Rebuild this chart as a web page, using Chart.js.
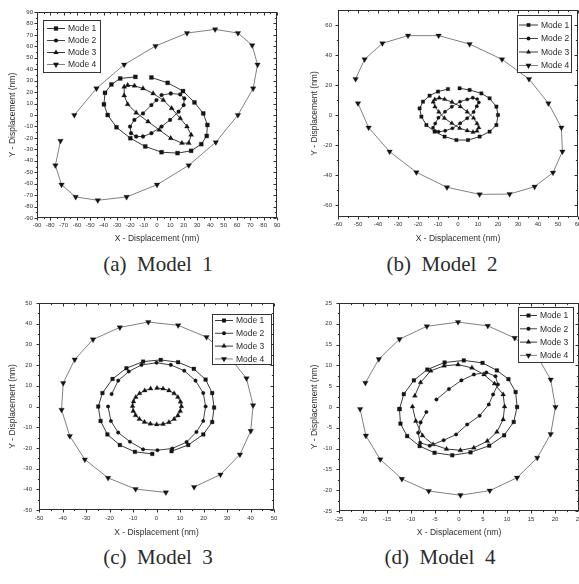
<!DOCTYPE html>
<html><head><meta charset="utf-8">
<script src="https://cdn.jsdelivr.net/npm/chart.js@4.4.1/dist/chart.umd.min.js"></script>
<style>
html,body{margin:0;padding:0;background:#fff;width:579px;height:584px;overflow:hidden;position:relative;}
.pane{position:absolute;}
.pane canvas{display:block;}
.cap{position:absolute;font-family:"Liberation Serif","DejaVu Serif",serif;font-size:21px;color:#2b2b2b;white-space:pre;transform:translate(-50%,-50%);}
</style></head><body>
<div class="pane" style="left:0px;top:0px"><canvas id="cA" width="290" height="244" style="width:290px;height:244px"></canvas></div>
<div class="pane" style="left:290px;top:0px"><canvas id="cB" width="310" height="244" style="width:310px;height:244px"></canvas></div>
<div class="pane" style="left:0px;top:290px"><canvas id="cC" width="290" height="248" style="width:290px;height:248px"></canvas></div>
<div class="pane" style="left:290px;top:290px"><canvas id="cD" width="310" height="248" style="width:310px;height:248px"></canvas></div>
<div class="cap" style="left:158px;top:264px">(a)  Model  1</div>
<div class="cap" style="left:442px;top:264px">(b)  Model  2</div>
<div class="cap" style="left:158px;top:557px">(c)  Model  3</div>
<div class="cap" style="left:440px;top:557px">(d)  Model  4</div>
<script>
// ---------- data ----------
const modeLabels = ['Mode 1', 'Mode 2', 'Mode 3', 'Mode 4'];

// (a) Model 1
const model1_mode1 = [[-4.2,32.8],[8,28.1],[19.5,20.9],[28.1,11],[34.7,1.4],[37.8,-8.7],[37.3,-18.3],[33.2,-25.5],[25.6,-31.3],[15.4,-33.3],[3.4,-32.5],[-8.8,-27.5],[-20,-20.3],[-30.4,-10.7],[-37,0],[-39.8,9.3],[-39,19.4],[-34.2,26.7],[-27.6,31.9],[-16.2,33.3]];
const model1_mode2 = [[3.4,17.4],[10.3,18.8],[17.4,18],[20.5,14.5],[20,8.7],[16.2,2.9],[9.8,-4.3],[3.4,-10.1],[-4.2,-15.9],[-10.5,-18.8],[-15.6,-18.8],[-19.5,-15.9],[-20.2,-10.1],[-17,-4.3],[-10.5,1.4],[-4.2,8.7],[-0.4,13]];
const model1_mode3 = [[-22,26],[-16.9,25.5],[-10.5,23.2],[-2.9,18.8],[4.7,13],[11,5.8],[17.4,-2.9],[22.5,-10.1],[25.6,-17.4],[23.8,-24.6],[18.7,-24.6],[10.3,-20.3],[1.7,-13],[-6.7,-5.8],[-15.6,2],[-22,9.3],[-24.6,17],[-24.6,24.6]];
const model1_mode4 = [[-62,0],[-45.4,23.2],[-24.6,44],[-1.1,60.3],[22.5,71.6],[43.6,74.8],[60.7,71.6],[71.4,60.9],[75.4,44],[72.1,23.2],[60.7,0],[44.1,-23.8],[23.8,-44],[0,-60.9],[-22.8,-71.6],[-44.4,-74.5],[-61,-71.6],[-71.6,-60.9],[-76.2,-44],[-72.4,-22.6]];
const model1_xTicks = [-90,-80,-70,-60,-50,-40,-30,-20,-10,0,10,20,30,40,50,60,70,80,90];
const model1_yTicks = [-90,-80,-70,-60,-50,-40,-30,-20,-10,0,10,20,30,40,50,60,70,80,90];

// (b) Model 2
const model2_mode1 = [[0.8,17.8],[5.8,16.7],[11.7,14.4],[15.8,11.1],[19.2,5.6],[20,0],[19.2,-6.7],[15.8,-11.1],[10.8,-14.4],[5,-16.7],[-0.8,-16.7],[-6.7,-14.4],[-11.7,-11.1],[-15.8,-6.7],[-18.3,-1.1],[-19.2,4.4],[-17.5,8.9],[-14.2,12.9],[-10,15.6],[-5,17.3]];
const model2_mode2 = [[9.6,10.6],[7.4,11.5],[4.6,10.4],[1.0,8.9],[-3.1,5.5],[-6.5,2.2],[-9.8,-1.8],[-11.4,-5.7],[-12.5,-8.5],[-11.4,-10.8],[-9.7,-11.2],[-6.4,-10.5],[-2.8,-8.9],[1.1,-5.5],[4.6,-2.2],[7.8,2.0],[9.4,5.8],[10.4,8.4]];
const model2_mode3 = [[-11.6,10.4],[-9.4,11.4],[-6.7,10.5],[-3.0,8.6],[1.2,5.6],[4.6,2.1],[7.8,-2.0],[9.5,-5.7],[10.4,-8.4],[9.5,-10.7],[7.5,-11.4],[4.6,-10.4],[0.8,-8.8],[-3.1,-5.5],[-6.8,-2.1],[-9.6,2.0],[-11.5,5.5],[-12.4,8.7]];
const model2_mode4 = [[-50,7.8],[-44.7,-8.4],[-34.2,-24.4],[-20.8,-38.2],[-5.5,-48.2],[10.8,-52.9],[25.8,-52.7],[38.3,-47.8],[47.5,-38.4],[52.2,-24.4],[51.7,-8.4],[45.2,7.8],[35.5,24],[22,37.1],[5.8,47.3],[-9.7,52.9],[-25,52.9],[-37.8,47.8],[-46.7,37.1],[-51.2,24]];
const model2_xTicks = [-60,-50,-40,-30,-20,-10,0,10,20,30,40,50,60];
const model2_yTicks = [-60,-40,-20,0,20,40,60];

// (c) Model 3
const model3_mode1 = [[6.4,-21.6],[13.5,-18.6],[19.9,-13.5],[23.7,-7.5],[24.5,-0.5],[23.7,6.5],[20.9,13],[15.9,18.2],[9.2,21.4],[1.8,22.5],[-5.7,21.7],[-12.8,18.5],[-18.7,13.3],[-23,6.5],[-24.8,0],[-23.8,-7],[-20.9,-13.5],[-15.6,-18.6],[-9.2,-21.9],[-1.8,-22.9]];
const model3_mode2 = [[-20.6,0],[-19.4,-7],[-16.3,-12.6],[-11.3,-17],[-5.7,-20.7],[0.4,-21.1],[6.7,-20.3],[12.8,-17.2],[17,-12.3],[19.9,-7],[20.9,0],[19.9,6.5],[16.6,12.5],[11.8,17.3],[6.1,20.1],[0,21.1],[-6.4,20.1],[-11.8,16.9],[-16.3,12.5],[-19.1,6]];
const model3_mode3 = [[0.2,8.9],[2.8,8.6],[5.3,7.7],[7.5,6.3],[9.1,4.5],[10.2,2.3],[10.6,0.1],[10.1,-2.2],[9.1,-4.4],[7.5,-6.1],[5.3,-7.6],[2.8,-8.5],[0.1,-8.7],[-2.6,-8.4],[-5.1,-7.5],[-7.3,-6.1],[-8.9,-4.3],[-9.9,-2.2],[-10.2,0.2],[-9.8,2.4],[-8.8,4.5],[-7.2,6.3],[-5.0,7.7],[-2.5,8.6]];
const model3_mode4 = [[4,-41.5],[-8.9,-39.9],[-20.6,-34.5],[-30.5,-25.6],[-36.9,-14.3],[-40.4,-1.6],[-39.7,11.3],[-34.8,22.7],[-27,32.4],[-15.6,38.2],[-3.5,40.8],[9.2,39.2],[21.3,33.5],[30.5,24.6],[38.3,13.6],[41.1,0.6],[40.1,-11.8],[35.5,-23.2],[27.2,-32.9],[16,-38.9]];
const model3_xTicks = [-50,-40,-30,-20,-10,0,10,20,30,40,50];
const model3_yTicks = [-50,-40,-30,-20,-10,0,10,20,30,40,50];

// (d) Model 4
const model4_mode1 = [[-12.4,-0.5],[-12.2,-4],[-10.8,-7],[-8.2,-9.4],[-5.1,-11],[-1.4,-11.6],[2.4,-10.9],[6.3,-9.3],[9.4,-6.8],[11.4,-3.6],[12.1,0],[11.8,3.6],[10.3,6.7],[7.9,8.8],[4.9,10.6],[1,11.2],[-3,10.7],[-6.6,9],[-9.4,6.4],[-11.5,3.1],[-12.4,-0.5]];
const model4_mode2 = [[-4.7,1.8],[-2.1,4.3],[0.5,6.4],[3.1,7.8],[5.7,8.3],[7.6,7.4],[8.1,5.4],[7.1,3],[6.2,0.6],[4.3,-2.1],[1.7,-4.2],[-0.6,-6.6],[-3.2,-8],[-6.1,-9.3],[-8.1,-8.6],[-8.5,-6.2],[-8,-3.7],[-6.8,-1.2]];
const model4_mode3 = [[-9.7,0.1],[-9.0,-3.4],[-7.6,-6.9],[-5.4,-9.0],[-2.6,-10.1],[0.3,-10.4],[3.1,-9.8],[5.9,-8.2],[7.9,-6.0],[9.2,-3.0],[9.5,0.1],[9.2,3.0],[7.4,5.6],[5.2,7.8],[2.7,9.4],[-0.2,10.2],[-3.1,9.9],[-5.9,8.7],[-8.0,5.9],[-9.2,2.7]];
const model4_mode4 = [[-20.6,-0.5],[-19.4,-6.9],[-16.4,-12.6],[-11.9,-17.3],[-6.3,-20.2],[0.3,-21.2],[6.4,-20.1],[12.1,-17],[16.3,-12.2],[19.1,-6.5],[20.1,0],[19.1,6.6],[16.3,12.2],[11.6,16.6],[6,19.5],[-0.2,20.4],[-6.7,19.4],[-12.4,16.3],[-16.7,11.5],[-19.5,5.8]];
const model4_xTicks = [-25,-20,-15,-10,-5,0,5,10,15,20,25];
const model4_yTicks = [-25,-20,-15,-10,-5,0,5,10,15,20,25];

// ---------- drawing ----------
const FONT = "'Liberation Sans', Arial, sans-serif";
const STYLES = [
  {pointStyle:'rect', rot:0, line:'#3a3a3a'},
  {pointStyle:'circle', rot:0, line:'#444444'},
  {pointStyle:'triangle', rot:0, line:'#3a3a3a'},
  {pointStyle:'triangle', rot:180, line:'#808080'}
];

function drawMarker(ctx, style, rot, x, y, r){
  ctx.beginPath();
  if(style==='rect'){ const s=Math.SQRT1_2*r; ctx.rect(x-s,y-s,2*s,2*s); }
  else if(style==='circle'){ ctx.arc(x,y,r,0,Math.PI*2); }
  else { let a = rot*Math.PI/180; for(let i=0;i<3;i++){ const px=x+Math.sin(a)*r, py=y-Math.cos(a)*r; if(i===0) ctx.moveTo(px,py); else ctx.lineTo(px,py); a+=2*Math.PI/3; } ctx.closePath(); }
  ctx.fill();
}

const framePlugin = {
  id:'frameTicks',
  afterDatasetsDraw(chart, args, o){
    const {ctx, chartArea:a, scales:{x,y}} = chart;
    ctx.save();
    ctx.strokeStyle='#2e2e2e'; ctx.lineWidth=1;
    const L=Math.round(a.left)+0.5, R=Math.round(a.right)-0.5, T=Math.round(a.top)+0.5, B=Math.round(a.bottom)-0.5;
    ctx.strokeRect(L,T,R-L,B-T);
    const xt=x.ticks.map(t=>t.value), yt=y.ticks.map(t=>t.value);
    const xm=[], ym=[];
    for(let i=0;i<xt.length-1;i++) xm.push((xt[i]+xt[i+1])/2);
    for(let i=0;i<yt.length-1;i++) ym.push((yt[i]+yt[i+1])/2);
    ctx.beginPath();
    const seg=(x1,y1,x2,y2)=>{ctx.moveTo(x1,y1);ctx.lineTo(x2,y2);};
    xt.forEach(v=>{const p=Math.round(x.getPixelForValue(v))+0.5; seg(p,B,p,B+3); seg(p,T,p,T+3);});
    xm.forEach(v=>{const p=Math.round(x.getPixelForValue(v))+0.5; seg(p,B,p,B+1.6); seg(p,T,p,T+1.6);});
    yt.forEach(v=>{const p=Math.round(y.getPixelForValue(v))+0.5; seg(L,p,L-3,p); seg(R,p,R-3,p);});
    ym.forEach(v=>{const p=Math.round(y.getPixelForValue(v))+0.5; seg(L,p,L-1.6,p); seg(R,p,R-1.6,p);});
    ctx.stroke();
    ctx.restore();
  }
};

const legendPlugin = {
  id:'boxLegend',
  afterDraw(chart, args, o){
    const ctx=chart.ctx;
    ctx.save();
    ctx.fillStyle='#fff'; ctx.fillRect(o.x,o.y,o.w,o.h);
    ctx.strokeStyle='#333'; ctx.lineWidth=1; ctx.strokeRect(o.x+0.5,o.y+0.5,o.w,o.h);
    chart.data.datasets.forEach((d,i)=>{
      const yy=o.y0+i*o.gap;
      ctx.strokeStyle=d.borderColor; ctx.lineWidth=1;
      ctx.beginPath(); ctx.moveTo(o.lx,yy+0.5); ctx.lineTo(o.lx+o.ll,yy+0.5); ctx.stroke();
      ctx.fillStyle='#141414';
      drawMarker(ctx,d.pointStyle,d.pointRotation,o.lx+o.ll/2,yy+0.5,d.pointRadius+0.2);
      ctx.fillStyle='#2a2a2a'; ctx.font=o.fs+'px '+FONT; ctx.textBaseline='middle'; ctx.textAlign='left';
      ctx.fillText(d.label,o.lx+o.ll+3,yy+1);
    });
    ctx.restore();
  }
};

function makeChart(id, series, radii, xTicks, yTicks, xr, yr, box, leg){
  const cv=document.getElementById(id);
  const W=cv.width, H=cv.height;
  const datasets=series.map((pts,i)=>({
    label:modeLabels[i],
    data:pts.map(p=>({x:p[0],y:p[1]})),
    showLine:true, tension:0, fill:false,
    borderColor:STYLES[i].line, borderWidth:1,
    pointStyle:STYLES[i].pointStyle, pointRotation:STYLES[i].rot,
    pointRadius:radii[i], pointBackgroundColor:'#141414', pointBorderColor:'#141414', pointBorderWidth:0.3
  }));
  return new Chart(cv,{
    type:'scatter',
    data:{datasets},
    options:{
      responsive:false, animation:false, devicePixelRatio:1,
      layout:{padding:{left:0,right:W-box.R,top:box.T,bottom:0}},
      plugins:{legend:{display:false},tooltip:{enabled:false},boxLegend:leg},
      scales:{
        x:{type:'linear',min:xr[0],max:xr[1],
          afterBuildTicks:s=>{s.ticks=xTicks.map(v=>({value:v}));},
          afterFit:s=>{s.height=H-box.B;},
          grid:{display:false,drawTicks:false,tickLength:0},border:{display:false},
          ticks:{autoSkip:false,maxRotation:0,minRotation:0,padding:box.xp,color:'#333',font:{size:6,family:FONT}},
          title:{display:true,text:'X - Displacement (nm)',color:'#2e2e2e',font:{size:8.5,family:FONT},padding:{top:0,bottom:0}}
        },
        y:{type:'linear',min:yr[0],max:yr[1],
          afterBuildTicks:s=>{s.ticks=yTicks.map(v=>({value:v}));},
          afterFit:s=>{s.width=box.L;},
          grid:{display:false,drawTicks:false,tickLength:0},border:{display:false},
          ticks:{autoSkip:false,padding:box.yp,color:'#333',font:{size:6,family:FONT}},
          title:{display:true,text:'Y - Displacement (nm)',color:'#2e2e2e',font:{size:8.5,family:FONT},padding:{top:box.yt,bottom:0}}
        }
      }
    },
    plugins:[framePlugin,legendPlugin]
  });
}

makeChart('cA',[model1_mode1,model1_mode2,model1_mode3,model1_mode4],[2.8,1.9,2.9,3.2],
  model1_xTicks,model1_yTicks,[-90,90],[-90,90],
  {L:37,R:277,T:12,B:218,xp:4,yp:4,yt:8},
  {x:43,y:20,w:57,h:52,y0:28,gap:12,lx:47,ll:18,fs:8.5});
makeChart('cB',[model2_mode1,model2_mode2,model2_mode3,model2_mode4],[2.4,1.7,2.6,3.2],
  model2_xTicks,model2_yTicks,[-60,60],[-68,70],
  {L:48,R:288,T:10,B:217,xp:4,yp:6,yt:20},
  {x:227,y:15,w:54,h:57,y0:24.5,gap:13.5,lx:229,ll:19,fs:8.5});
makeChart('cC',[model3_mode1,model3_mode2,model3_mode3,model3_mode4],[2.6,1.8,2.8,3.2],
  model3_xTicks,model3_yTicks,[-50,50],[-50,50],
  {L:39,R:274,T:13,B:220,xp:5,yp:7,yt:8},
  {x:212,y:24,w:59,h:50,y0:30,gap:12.8,lx:215,ll:18,fs:8.5});
makeChart('cD',[model4_mode1,model4_mode2,model4_mode3,model4_mode4],[2.6,1.8,2.8,3.2],
  model4_xTicks,model4_yTicks,[-25,25],[-25,25],
  {L:49,R:289,T:13,B:221,xp:5,yp:7,yt:20},
  {x:228,y:17,w:55,h:55,y0:25,gap:13.3,lx:230,ll:17,fs:8.5});
</script>
</body></html>
